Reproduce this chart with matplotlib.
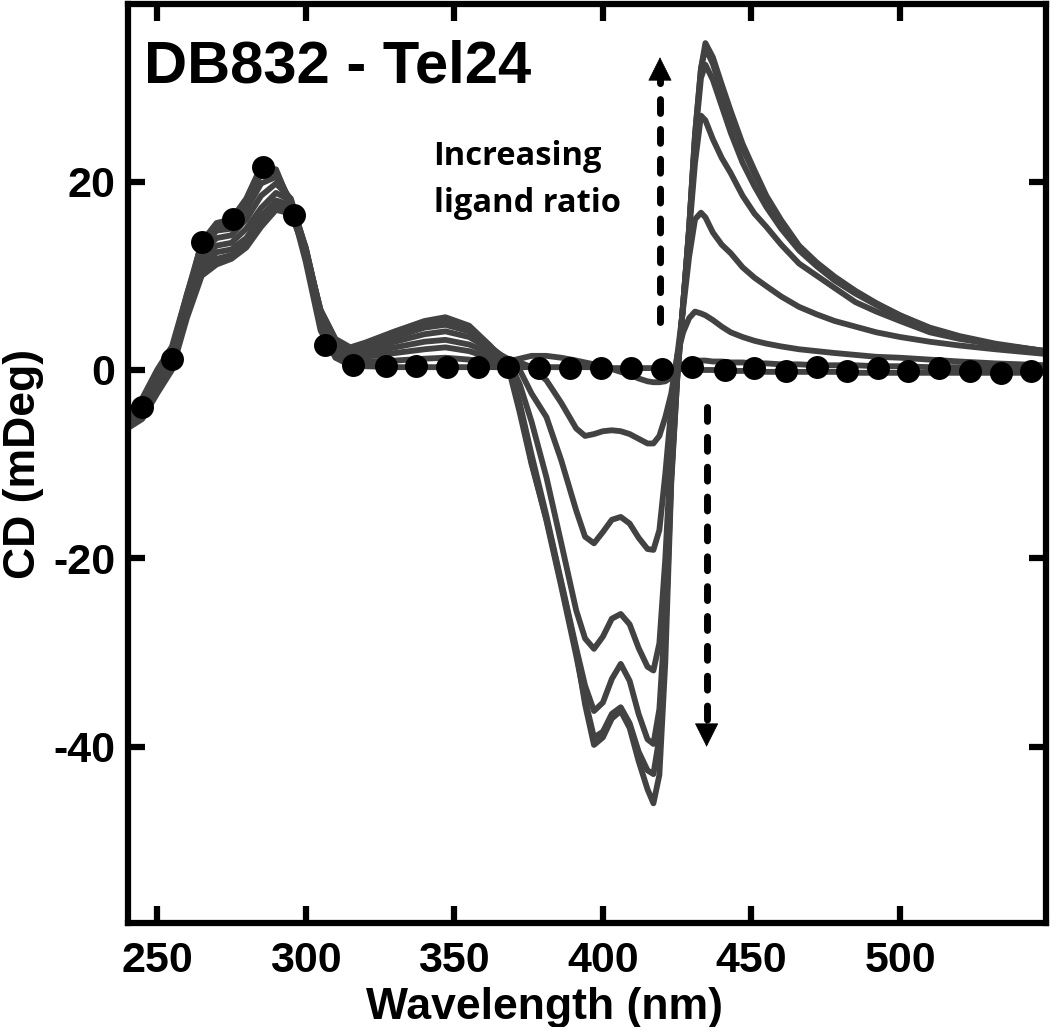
import matplotlib
matplotlib.use('Agg')
import matplotlib.pyplot as plt

# wavelength grid (nm) shared by all titration spectra
wavelength = [240, 245, 250, 255, 260, 265, 270, 275, 280, 285,
              290, 295, 300, 305, 310, 315, 320, 330, 340, 347,
              355, 362, 368, 372, 376, 381, 386, 391, 394, 397,
              400, 403, 406, 409, 412, 415, 417, 419, 421, 423,
              425, 427, 429, 431, 433, 434.5, 437, 440, 443, 447,
              451, 455, 460, 466, 472, 478, 485, 492, 500, 510,
              520, 532, 549]

# CD (mDeg) for each ligand ratio, lowest to highest
cd_free = [-5.5, -3.9, -1.0, 1.2, 7.5, 13.6, 15.6, 16.0, 18.2, 21.6,
           21.3, 17.5, 11.5, 4.2, 1.3, 0.5, 0.4, 0.3, 0.3, 0.3,
           0.3, 0.3, 0.3, 0.3, 0.3, 0.3, 0.3, 0.3, 0.3, 0.3,
           0.2, 0.2, 0.2, 0.2, 0.2, 0.2, 0.2, 0.2, 0.2, 0.2,
           0.1, 0.1, 0.1, 0.0, 0.0, 0.0, 0.0, -0.1, -0.1, -0.1,
           -0.1, -0.2, -0.2, -0.2, -0.2, -0.2, -0.3, -0.3, -0.3, -0.3,
           -0.3, -0.3, -0.3]
cd_r1 = [-5.0, -3.5, -0.5, 2.0, 8.0, 13.5, 15.3, 15.6, 17.8, 20.8,
         21.0, 17.8, 12.0, 5.0, 2.0, 0.8, 0.9, 1.0, 1.2, 1.3,
         1.1, 0.8, 0.9, 1.2, 1.5, 1.5, 1.3, 1.0, 0.8, 0.6,
         0.4, 0.1, -0.2, -0.5, -0.9, -1.2, -1.3, -1.3, -1.2, -0.8,
         0.0, 0.6, 0.9, 1.0, 1.0, 1.0, 0.9, 0.9, 0.8, 0.8,
         0.7, 0.7, 0.6, 0.6, 0.5, 0.5, 0.5, 0.4, 0.4, 0.3,
         0.3, 0.2, 0.2]
cd_r2 = [-4.5, -3.0, 0.0, 2.5, 8.0, 13.0, 14.8, 15.0, 17.0, 19.8,
         20.5, 18.0, 12.5, 5.5, 2.3, 1.1, 1.4, 1.8, 2.2, 2.4,
         2.0, 1.3, 0.9, 0.8, 0.3, -1.1, -3.5, -6.2, -7.0, -6.8,
         -6.5, -6.4, -6.5, -6.8, -7.3, -7.8, -7.8, -7.0, -5.0, -2.5,
         1.5, 4.0, 5.5, 6.2, 6.0, 5.8, 5.3, 4.6, 4.0, 3.5,
         3.1, 2.8, 2.5, 2.2, 2.0, 1.8, 1.6, 1.4, 1.3, 1.1,
         0.9, 0.7, 0.5]
cd_r3 = [-4.5, -3.5, -0.5, 2.0, 7.5, 12.5, 14.0, 14.3, 16.0, 18.5,
         19.8, 18.2, 12.8, 5.8, 2.5, 1.4, 1.8, 2.4, 3.0, 3.2,
         2.7, 1.8, 1.0, 0.0, -2.5, -5.0, -9.6, -14.9, -17.7, -18.4,
         -17.2, -15.9, -15.6, -16.3, -17.8, -19.0, -19.1, -17.0, -11.0, -4.0,
         1.5, 6.5, 12.0, 16.0, 16.7, 16.2, 14.6, 13.3, 12.4, 10.9,
         9.8, 8.9, 7.8, 6.7, 5.9, 5.2, 4.6, 4.0, 3.5, 3.0,
         2.6, 2.2, 1.7]
cd_r4 = [-5.0, -4.0, -1.0, 1.5, 7.0, 11.8, 13.2, 13.5, 15.0, 17.2,
         18.8, 18.0, 13.0, 6.0, 2.8, 1.7, 2.1, 3.0, 3.8, 4.1,
         3.5, 2.2, 1.2, -1.5, -5.5, -11.4, -18.4, -25.5, -28.5, -29.6,
         -28.3, -26.4, -25.9, -27.0, -29.5, -31.5, -31.9, -29.0, -20.0, -8.0,
         0.0, 7.0, 14.5, 22.0, 27.0, 26.5, 24.5, 22.5, 20.9, 18.5,
         16.6, 15.2, 13.3, 11.3, 10.0, 8.7, 7.2, 6.2, 5.2, 4.0,
         3.3, 2.7, 2.0]
cd_r5 = [-5.5, -4.5, -1.5, 1.0, 6.5, 11.0, 12.5, 12.8, 14.0, 16.3,
         18.0, 17.5, 13.0, 6.2, 3.0, 2.0, 2.4, 3.5, 4.5, 4.8,
         4.1, 2.4, 1.0, -3.5, -9.0, -15.5, -22.5, -29.5, -33.5, -36.2,
         -35.3, -32.8, -31.2, -33.0, -36.5, -39.2, -39.7, -36.0, -26.0, -11.0,
         -0.5, 7.0, 15.0, 24.5, 31.0, 32.4, 30.8, 28.0, 25.2, 22.0,
         19.5, 17.3, 15.0, 12.7, 11.0, 9.5, 8.1, 6.9, 5.6, 4.3,
         3.4, 2.7, 2.0]
cd_r6 = [-6.0, -5.0, -2.0, 0.5, 6.0, 10.5, 11.8, 12.2, 13.5, 15.6,
         17.5, 17.0, 12.8, 6.3, 3.2, 2.2, 2.7, 3.9, 5.0, 5.3,
         4.5, 2.5, 1.0, -4.0, -9.8, -16.0, -23.0, -30.3, -35.0, -39.0,
         -38.4, -36.5, -35.8, -37.5, -40.5, -42.5, -42.9, -39.0, -28.5, -11.5,
         -1.0, 7.0, 15.0, 25.0, 32.0, 34.2, 32.5, 29.5, 26.8, 23.5,
         20.8, 18.3, 15.7, 13.1, 11.3, 9.8, 8.3, 7.0, 5.8, 4.4,
         3.5, 2.7, 1.9]
cd_r7 = [-6.2, -5.2, -2.5, 0.0, 5.5, 10.0, 11.2, 11.8, 13.0, 15.2,
         17.0, 16.6, 12.5, 6.4, 3.3, 2.4, 2.9, 4.1, 5.2, 5.6,
         4.7, 2.6, 0.5, -4.5, -10.0, -15.8, -22.7, -29.8, -35.5, -39.8,
         -39.0, -37.0, -36.2, -38.0, -41.5, -44.5, -46.0, -43.0, -31.0, -12.0,
         -1.0, 7.0, 15.0, 25.0, 32.0, 34.7, 33.2, 30.3, 27.5, 24.0,
         21.2, 18.5, 15.9, 13.2, 11.4, 9.9, 8.4, 7.1, 5.8, 4.5,
         3.6, 2.8, 2.0]
spectra = [cd_free, cd_r1, cd_r2, cd_r3, cd_r4, cd_r5, cd_r6, cd_r7]

# DNA-only markers
marker_wl = [245, 255, 265, 275.5, 285.5, 296, 306.5, 316, 327, 337,
             347.5, 358, 368, 378.5, 389, 399.5, 409.5, 420, 430, 441,
             451, 461.5, 472, 482, 492.5, 502.5, 513, 523.5, 534, 544]
marker_cd = [-3.9, 1.2, 13.6, 16.0, 21.6, 16.5, 2.6, 0.5, 0.4, 0.4,
             0.3, 0.3, 0.3, 0.2, 0.2, 0.2, 0.2, 0.1, 0.3, 0.0,
             0.2, -0.1, 0.3, -0.1, 0.2, -0.1, 0.2, -0.1, -0.3, -0.1]

x_ticks = [250, 300, 350, 400, 450, 500]
y_ticks = [-40, -20, 0, 20]

plt.rcParams['font.family'] = ['Liberation Sans', 'DejaVu Sans']
plt.rcParams['font.weight'] = 'bold'
plt.rcParams['axes.unicode_minus'] = False

fig = plt.figure(figsize=(10.5, 10.27), dpi=100)
ax = fig.add_axes([0.1219, 0.1013, 0.8743, 0.8948])

for cd in spectra:
    ax.plot(wavelength, cd, color='#424242', lw=4.2, solid_joinstyle='round')
ax.plot(marker_wl, marker_cd, 'o', color='black', markersize=15.5, zorder=5)

# dashed arrows
ax.plot([419.2, 419.2], [5.1, 30.8], color='black', lw=5,
        dashes=(2.0, 2.3), dash_capstyle='round')
ax.annotate('', xy=(419.2, 33.2), xytext=(419.2, 30.8),
            arrowprops=dict(arrowstyle='-|>,head_length=0.8,head_width=0.4',
                            mutation_scale=20, color='black', lw=0.5,
                            shrinkA=0, shrinkB=0))
ax.plot([434.9, 434.9], [-3.9, -37.5], color='black', lw=5,
        dashes=(2.0, 2.3), dash_capstyle='round')
ax.annotate('', xy=(434.9, -40.0), xytext=(434.9, -37.5),
            arrowprops=dict(arrowstyle='-|>,head_length=0.8,head_width=0.4',
                            mutation_scale=20, color='black', lw=0.5,
                            shrinkA=0, shrinkB=0))

ax.text(343, 21.8, 'Increasing', fontsize=23.5, family='Open Sans',
        fontweight='bold', va='baseline', ha='left')
ax.text(343, 16.8, 'ligand ratio', fontsize=23.5, family='Open Sans',
        fontweight='bold', va='baseline', ha='left')
ax.text(0.017, 0.915, 'DB832 - Tel24', transform=ax.transAxes,
        fontsize=43, fontweight='bold', va='baseline', ha='left')

ax.set_xlim(240.2, 549.1)
ax.set_ylim(-58.7, 38.85)
ax.set_xticks(x_ticks)
ax.set_yticks(y_ticks)
ax.tick_params(direction='in', length=12, width=4.5, top=True, right=True,
               labelsize=31)
ax.tick_params(axis='x', pad=13)
ax.tick_params(axis='y', pad=9)
for s in ax.spines.values():
    s.set_linewidth(4.5)

ax.set_xlabel('Wavelength (nm)', fontsize=32, fontweight='bold')
ax.set_ylabel('CD (mDeg)', fontsize=32, fontweight='bold')
ax.xaxis.set_label_coords(0.454, -0.0696)
ax.yaxis.set_label_coords(-0.0915, 0.5)

fig.savefig('out.png', dpi=100)
